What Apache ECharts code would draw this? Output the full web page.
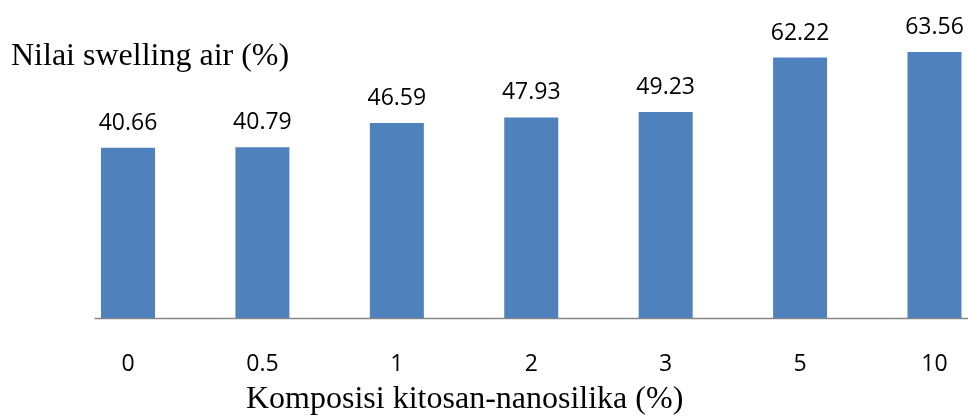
<!DOCTYPE html>
<html>
<head>
<meta charset="utf-8">
<script src="https://cdn.jsdelivr.net/npm/echarts@6/dist/echarts.min.js"></script>
<style>
  html, body { margin: 0; padding: 0; background: #ffffff; }
  #chart { width: 968px; height: 418px; }
</style>
</head>
<body>
<div id="chart"></div>
<script>
// Chitosan-nanosilica composition (%) on the category axis
const categories = ['0', '0.5', '1', '2', '3', '5', '10'];
// Water swelling value (%) for each composition
const swellingValues = [40.66, 40.79, 46.59, 47.93, 49.23, 62.22, 63.56];

const yTitle = 'Nilai swelling air (%)';
const xTitle = 'Komposisi kitosan-nanosilika (%)';

const labelFont = '"Open Sans", "DejaVu Sans", sans-serif';
const serifFont = '"Liberation Serif", "Times New Roman", serif';

const chart = echarts.init(document.getElementById('chart'), null, { renderer: 'canvas' });

chart.setOption({
  backgroundColor: '#ffffff',
  animation: false,
  title: [
    {
      text: yTitle,
      left: 6,
      top: 36,
      textStyle: { fontFamily: serifFont, fontSize: 32, fontWeight: 'normal', color: '#000000' }
    },
    {
      text: xTitle,
      left: 241,
      top: 379,
      textStyle: { fontFamily: serifFont, fontSize: 32, fontWeight: 'normal', color: '#000000' }
    }
  ],
  grid: [
    // bar plot area: first and last category sit on the grid edges
    { left: 128, right: 33.5, top: 25, height: 293 },
    // visible baseline of the horizontal axis
    { left: 95, right: 0, top: 25, height: 293 }
  ],
  xAxis: [
    {
      type: 'category',
      gridIndex: 0,
      data: categories,
      boundaryGap: false,
      axisLine: { show: false },
      axisTick: { show: false },
      axisLabel: {
        margin: 35,
        fontFamily: labelFont,
        fontSize: 23,
        color: '#000000'
      }
    },
    {
      type: 'category',
      gridIndex: 1,
      data: categories,
      axisLine: { show: true, lineStyle: { color: '#868686', width: 1.3 } },
      axisTick: { show: false },
      axisLabel: { show: false }
    }
  ],
  yAxis: [
    {
      type: 'value',
      gridIndex: 0,
      min: 0,
      max: 70,
      show: false,
      splitLine: { show: false }
    },
    {
      type: 'value',
      gridIndex: 1,
      min: 0,
      max: 70,
      show: false,
      splitLine: { show: false }
    }
  ],
  series: [
    {
      type: 'bar',
      xAxisIndex: 0,
      yAxisIndex: 0,
      data: swellingValues,
      barWidth: 54,
      itemStyle: { color: '#4f81bd' },
      label: {
        show: true,
        position: 'top',
        distance: 13,
        formatter: (p) => p.value.toFixed(2),
        fontFamily: labelFont,
        fontSize: 23,
        color: '#000000'
      }
    }
  ]
});
</script>
</body>
</html>
